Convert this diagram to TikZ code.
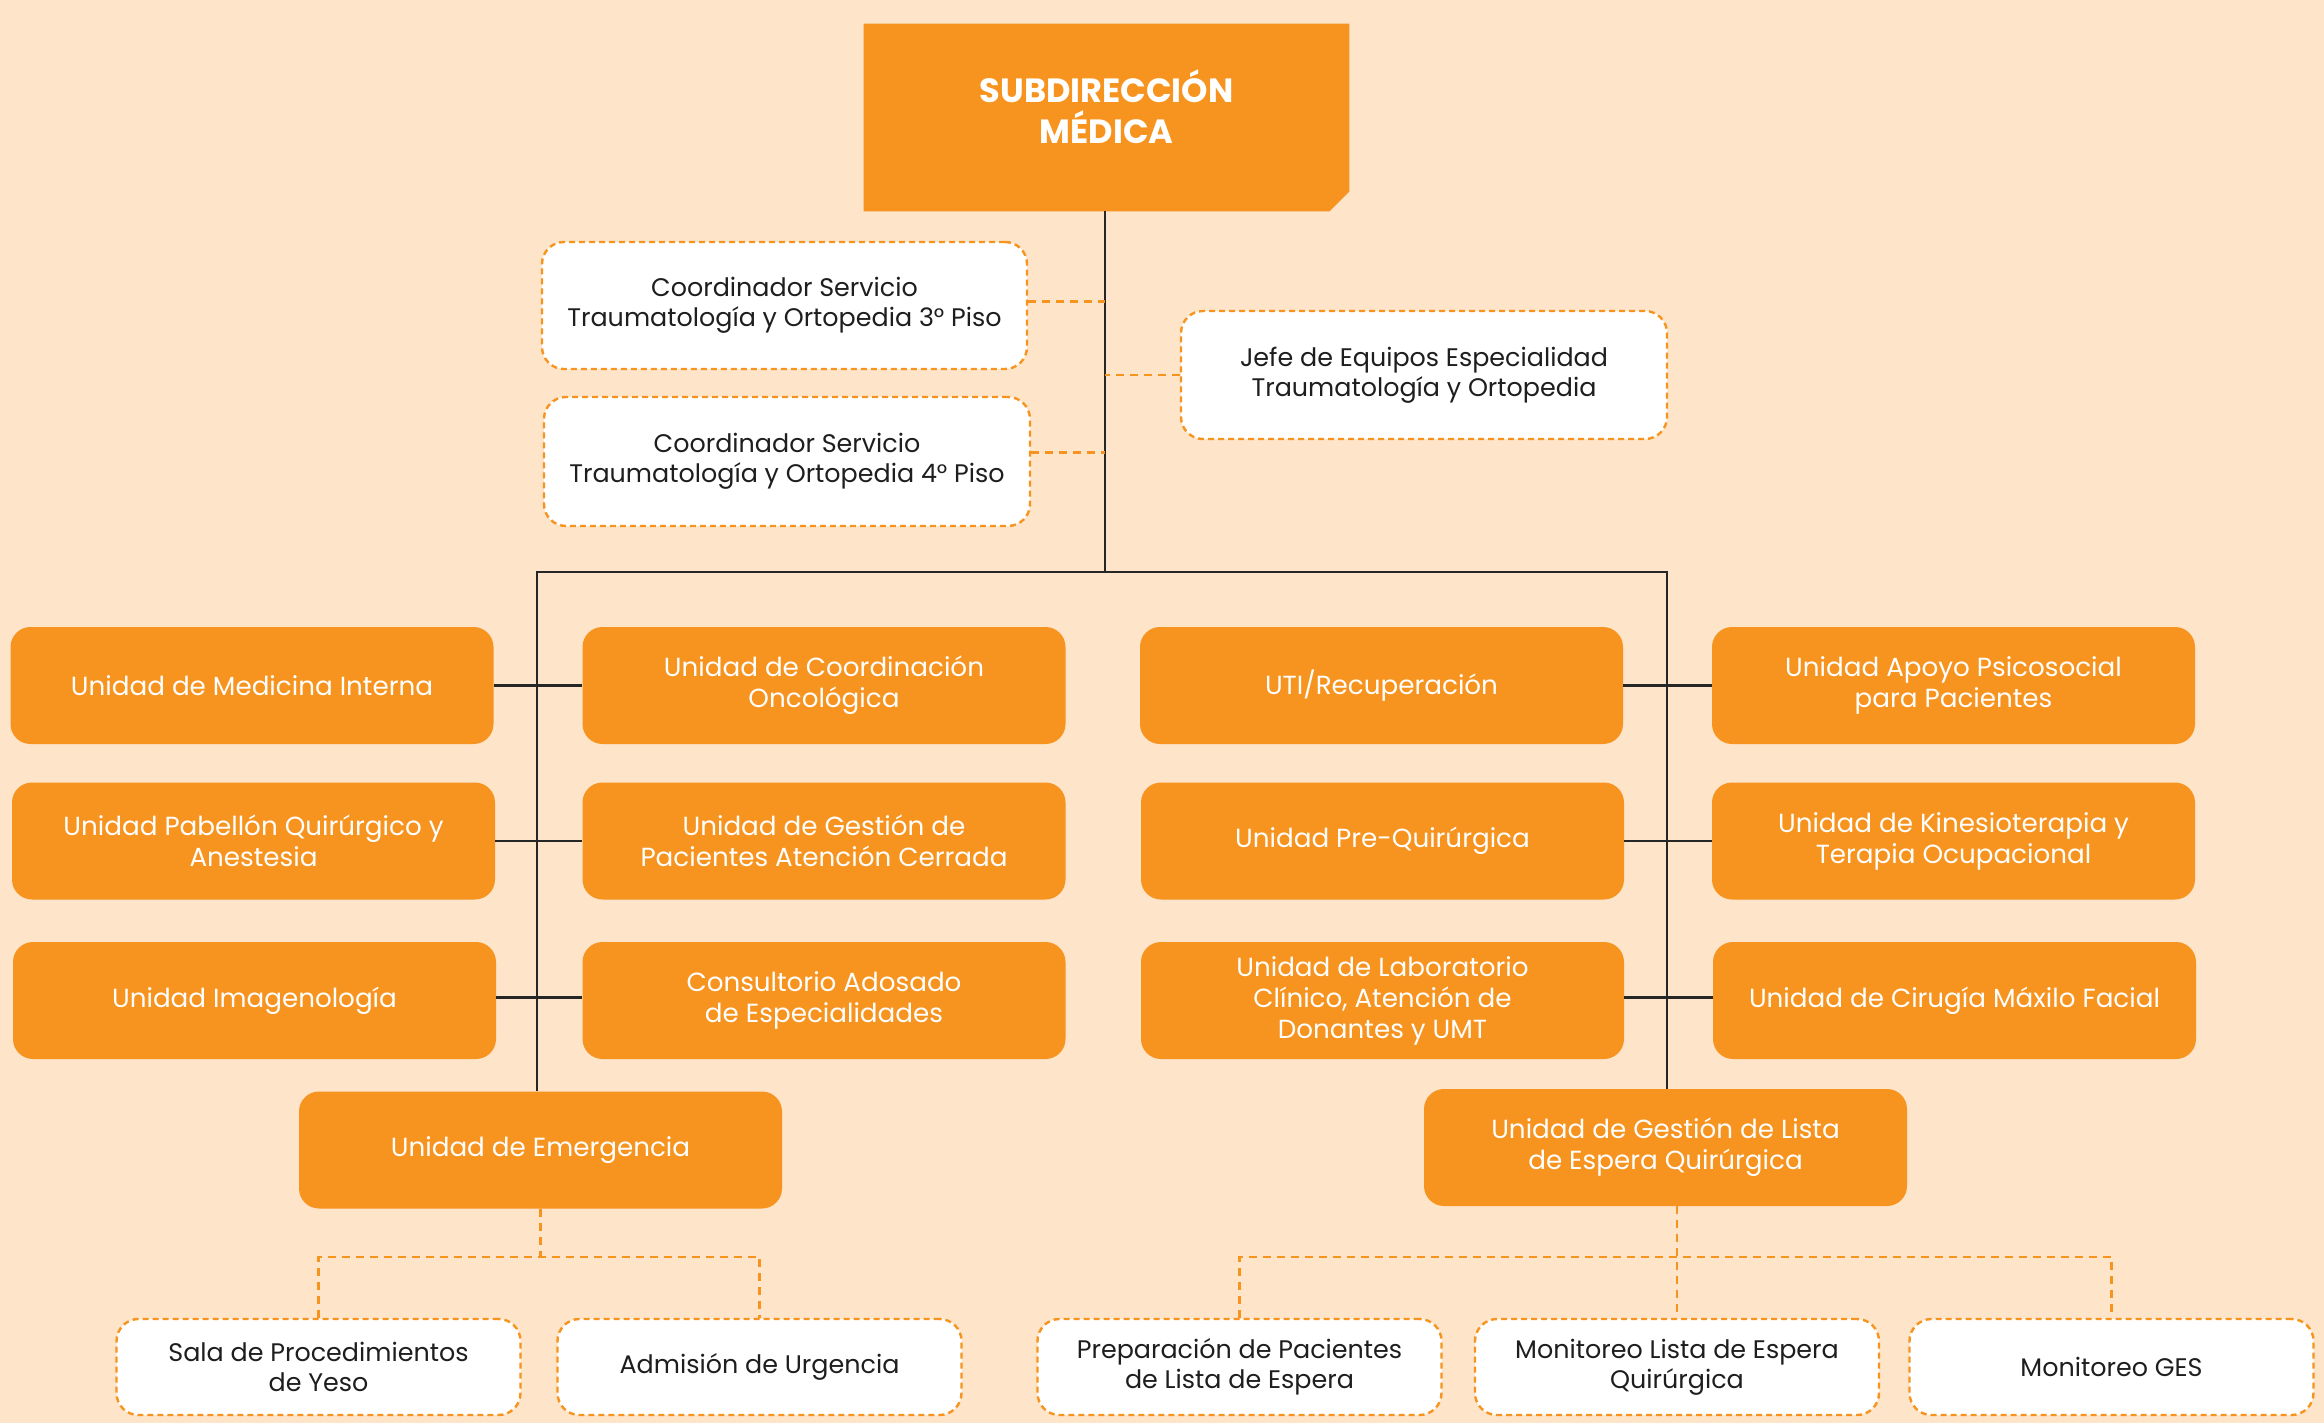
\documentclass[tikz,border=0pt]{standalone}
\usepackage{fontspec}
\setmainfont{Poppins}
\definecolor{bg}{HTML}{FEE4C9}
\definecolor{orng}{HTML}{F7941F}
\definecolor{ink}{HTML}{1E1E1E}
\definecolor{lineclr}{HTML}{262626}
\tikzset{
  obox/.style={fill=orng, rounded corners=10pt, minimum width=241.5pt, minimum height=58.5pt,
    inner sep=0pt, align=center, text=white, font=\fontsize{13.1}{15.5}\selectfont},
  dbox/.style={fill=white, draw=orng, line width=1.2pt, dash pattern=on 3pt off 2pt,
    rounded corners=11pt, inner sep=0pt, align=center, text=ink, font=\fontsize{12.7}{15}\selectfont},
  solidline/.style={draw=lineclr, line width=1.2pt},
  dline/.style={draw=orng, line width=1.2pt, dash pattern=on 4pt off 3pt},
}
\begin{document}
\begin{tikzpicture}[x=0.5pt,y=-0.5pt]
\fill[bg] (0,0) rectangle (2324,1423);
\useasboundingbox (0,0) rectangle (2324,1423);

% title
\node[minimum width=242.5pt, minimum height=93.5pt, inner sep=0pt] (titlebox) at (1106.5,117.5) {};
\fill[orng] (titlebox.north west) -- (titlebox.north east) -- ([yshift=10pt]titlebox.south east)
  -- ([xshift=-10pt]titlebox.south east) -- (titlebox.south west) -- cycle;
\node[text=white, align=center, font=\fontsize{16.8}{20.5}\selectfont\bfseries] (title) at (1106.5,107) {SUBDIRECCIÓN\\MÉDICA};

% dashed staff boxes
\node[dbox, minimum width=242.5pt, minimum height=63.5pt] (c3) at (784.5,305.5) {Coordinador Servicio\\Traumatología y Ortopedia 3° Piso};
\node[dbox, minimum width=243pt, minimum height=64.5pt] (c4) at (787,461.5) {Coordinador Servicio\\Traumatología y Ortopedia 4° Piso};
\node[dbox, minimum width=243pt, minimum height=64pt] (jefe) at (1424,375) {Jefe de Equipos Especialidad\\Traumatología y Ortopedia};

% orange units
\node[obox] (mi) at (252,685.5) {Unidad de Medicina Interna};
\node[obox] (onc) at (824,685.5) {Unidad de Coordinación\\Oncológica};
\node[obox] (uti) at (1381.5,685.5) {UTI/Recuperación};
\node[obox] (psi) at (1953.5,685.5) {Unidad Apoyo Psicosocial\\para Pacientes};

\node[obox] (pab) at (253.5,841) {Unidad Pabellón Quirúrgico y\\Anestesia};
\node[obox] (gpac) at (824,841) {Unidad de Gestión de\\Pacientes Atención Cerrada};
\node[obox] (preq) at (1382.5,841) {Unidad Pre-Quirúrgica};
\node[obox] (kin) at (1953.5,841) {Unidad de Kinesioterapia y\\Terapia Ocupacional};

\node[obox] (img) at (254.5,1000.5) {Unidad Imagenología};
\node[obox] (cons) at (824,1000.5) {Consultorio Adosado\\de Especialidades};
\node[obox] (lab) at (1382.5,1000.5) {Unidad de Laboratorio\\Clínico, Atención de\\Donantes y UMT};
\node[obox] (cmf) at (1954.5,1000.5) {Unidad de Cirugía Máxilo Facial};

\node[obox] (emer) at (540.5,1150) {Unidad de Emergencia};
\node[obox] (lista) at (1665.5,1147.5) {Unidad de Gestión de Lista\\de Espera Quirúrgica};

% bottom dashed boxes
\node[dbox, minimum width=202pt, minimum height=48pt] (sala) at (318.5,1367) {Sala de Procedimientos\\de Yeso};
\node[dbox, minimum width=202pt, minimum height=48pt] (adm) at (759.5,1367) {Admisión de Urgencia};
\node[dbox, minimum width=202pt, minimum height=48pt] (prep) at (1239.5,1367) {Preparación de Pacientes\\de Lista de Espera};
\node[dbox, minimum width=202pt, minimum height=48pt] (monl) at (1677,1367) {Monitoreo Lista de Espera\\Quirúrgica};
\node[dbox, minimum width=202pt, minimum height=48pt] (ges) at (2111.5,1367) {Monitoreo GES};

% solid connectors
\coordinate (trunk) at (1105,572);
\coordinate (barL) at (537,572);
\coordinate (barR) at (1667,572);
\draw[solidline] (titlebox.south -| trunk) -- (trunk);
\draw[solidline] (barL |- emer.north) -- (barL) -- (barR) -- (barR |- lista.north);
\draw[solidline] (mi.east) -- (onc.west);
\draw[solidline] (pab.east) -- (gpac.west);
\draw[solidline] ([yshift=1.5pt]img.east) -- ([yshift=1.5pt]cons.west);
\draw[solidline] (uti.east) -- (psi.west);
\draw[solidline] (preq.east) -- (kin.west);
\draw[solidline] ([yshift=1.5pt]lab.east) -- ([yshift=1.5pt]cmf.west);

% dashed connectors
\draw[dline] ([yshift=2pt]c3.east) -- ([yshift=2pt]c3.east -| trunk);
\draw[dline] ([yshift=4.5pt]c4.east) -- ([yshift=4.5pt]c4.east -| trunk);
\draw[dline] (jefe.west) -- (jefe.west -| trunk);

\coordinate (ej) at (540,1257);
\coordinate (lj) at (1677,1257);
\draw[dline] (emer.south) -- (emer.south |- ej);
\draw[dline] (sala.north) -- (sala.north |- ej) -- (adm.north |- ej) -- (adm.north);
\draw[dline] (lista.south -| lj) -- (lj) -- (monl.north);
\draw[dline] (prep.north) -- (prep.north |- lj) -- (ges.north |- lj) -- (ges.north);
\end{tikzpicture}
\end{document}
